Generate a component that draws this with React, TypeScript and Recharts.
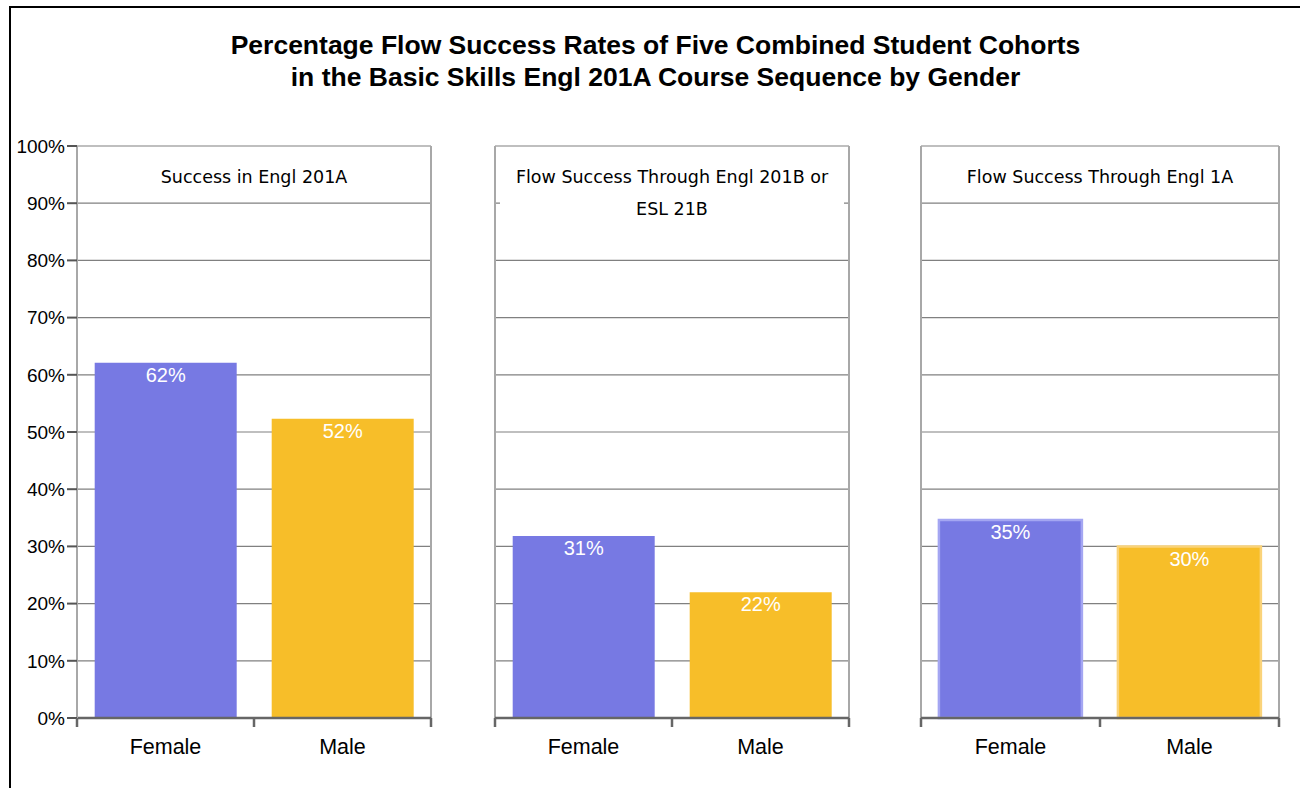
import React from "react";
import { BarChart, Bar, XAxis, YAxis, CartesianGrid, Cell, LabelList } from "recharts";

const categories = ["Female", "Male"];
const panelTitles = [
  "Success in Engl 201A",
  "Flow Success Through Engl 201B or\nESL 21B",
  "Flow Success Through Engl 1A",
];
const successEngl201A = [62.1, 52.3];
const flowEngl201B = [31.8, 22.0];
const flowEngl1A = [34.6, 30.0];
const labelsEngl201A = ["62%", "52%"];
const labelsEngl201B = ["31%", "22%"];
const labelsEngl1A = ["35%", "30%"];
const yTicks = [0, 10, 20, 30, 40, 50, 60, 70, 80, 90, 100];

const fills = ["#7779e3", "#f7be29"];
const softStrokes = ["#a4a6f2", "#fad37a"];

const mk = (vals: number[], labels: string[]) =>
  categories.map((c, i) => ({ gender: c, value: vals[i], label: labels[i] }));

const panels = [
  { data: mk(successEngl201A, labelsEngl201A), left: 0, width: 430, ml: 0, yw: 66, plotW: 354, soft: false },
  { data: mk(flowEngl201B, labelsEngl201B), left: 474, width: 374, ml: 10, yw: 0, plotW: 354, soft: false },
  { data: mk(flowEngl1A, labelsEngl1A), left: 900, width: 378, ml: 10, yw: 0, plotW: 358, soft: true },
];

const CHART_H = 770;
const M_TOP = 138;
const X_H = 60;

const makeTick = (half: number) => (props: any) => {
  const { x, y, payload, index } = props;
  return (
    <g>
      <line x1={x - half} x2={x - half} y1={y} y2={y + 9} stroke="#666" strokeWidth={2.5} />
      {index === 1 && <line x1={x + half} x2={x + half} y1={y} y2={y + 9} stroke="#666" strokeWidth={2.5} />}
      <text x={x} y={y + 29} textAnchor="middle" dominantBaseline="central" fontSize={21.5} fill="#000" fontFamily="'Liberation Sans', Arial, sans-serif">
        {payload.value}
      </text>
    </g>
  );
};

export default function App() {
  return (
    <div
      style={{
        position: "absolute",
        left: 9,
        top: 6,
        width: 1289,
        height: 780,
        borderTop: "2px solid #000",
        borderLeft: "2px solid #000",
        background: "#fff",
        fontFamily: "'Liberation Sans', Arial, sans-serif",
      }}
    >
      <div
        style={{
          position: "absolute",
          left: 0,
          top: 21,
          width: 1289,
          textAlign: "center",
          fontWeight: "bold",
          fontSize: 26.5,
          lineHeight: "32px",
          color: "#000",
        }}
      >
        Percentage Flow Success Rates of Five Combined Student Cohorts
        <br />
        in the Basic Skills Engl 201A Course Sequence by Gender
      </div>
      {panels.map((p, pi) => {
        const plotLeft = p.left + p.ml + p.yw;
        return (
          <React.Fragment key={pi}>
            <div style={{ position: "absolute", left: p.left, top: 0 }}>
              <BarChart
                width={p.width}
                height={CHART_H}
                data={p.data}
                margin={{ top: M_TOP, right: 10, bottom: 0, left: p.ml }}
                barCategoryGap="10%"
              >
                <CartesianGrid vertical={false} stroke="#808080" strokeWidth={1.2} />
                <CartesianGrid
                  horizontal={false}
                  stroke="#a8a8a8"
                  strokeWidth={2}
                  verticalPoints={[p.ml + p.yw, p.ml + p.yw + p.plotW]}
                />
                <XAxis
                  dataKey="gender"
                  height={X_H}
                  axisLine={{ stroke: "#666", strokeWidth: 2.5 }}
                  tickLine={false}
                  tickSize={0}
                  tickMargin={0}
                  interval={0}
                  tick={makeTick(p.plotW / 4)}
                />
                <YAxis
                  hide={pi !== 0}
                  width={p.yw}
                  domain={[0, 100]}
                  ticks={yTicks}
                  interval={0}
                  tickFormatter={(v: number) => `${v}%`}
                  tick={{ fill: "#000", fontSize: 19, fontFamily: "'Liberation Sans', Arial, sans-serif" }}
                  tickLine={{ stroke: "#555", strokeWidth: 2 }}
                  tickSize={10}
                  tickMargin={2}
                  axisLine={{ stroke: "#a8a8a8", strokeWidth: 2 }}
                />
                <Bar dataKey="value" isAnimationActive={false}>
                  {p.data.map((d, i) => (
                    <Cell
                      key={d.gender}
                      fill={fills[i]}
                      stroke={p.soft ? softStrokes[i] : "none"}
                      strokeWidth={p.soft ? 2.5 : 0}
                    />
                  ))}
                  <LabelList
                    dataKey="label"
                    position="insideTop"
                    offset={5}
                    fill="#fff"
                    fontSize={20}
                    fontFamily="'Liberation Sans', Arial, sans-serif"
                  />
                </Bar>
              </BarChart>
            </div>
            <div
              style={{
                position: "absolute",
                left: plotLeft + 5,
                top: 153,
                width: p.plotW - 10,
                textAlign: "center",
                background: "#fff",
                fontFamily: "'DejaVu Sans', Verdana, sans-serif",
                fontSize: 17.5,
                lineHeight: "32px",
                whiteSpace: "pre-line",
                color: "#000",
              }}
            >
              {panelTitles[pi]}
            </div>
          </React.Fragment>
        );
      })}
    </div>
  );
}
